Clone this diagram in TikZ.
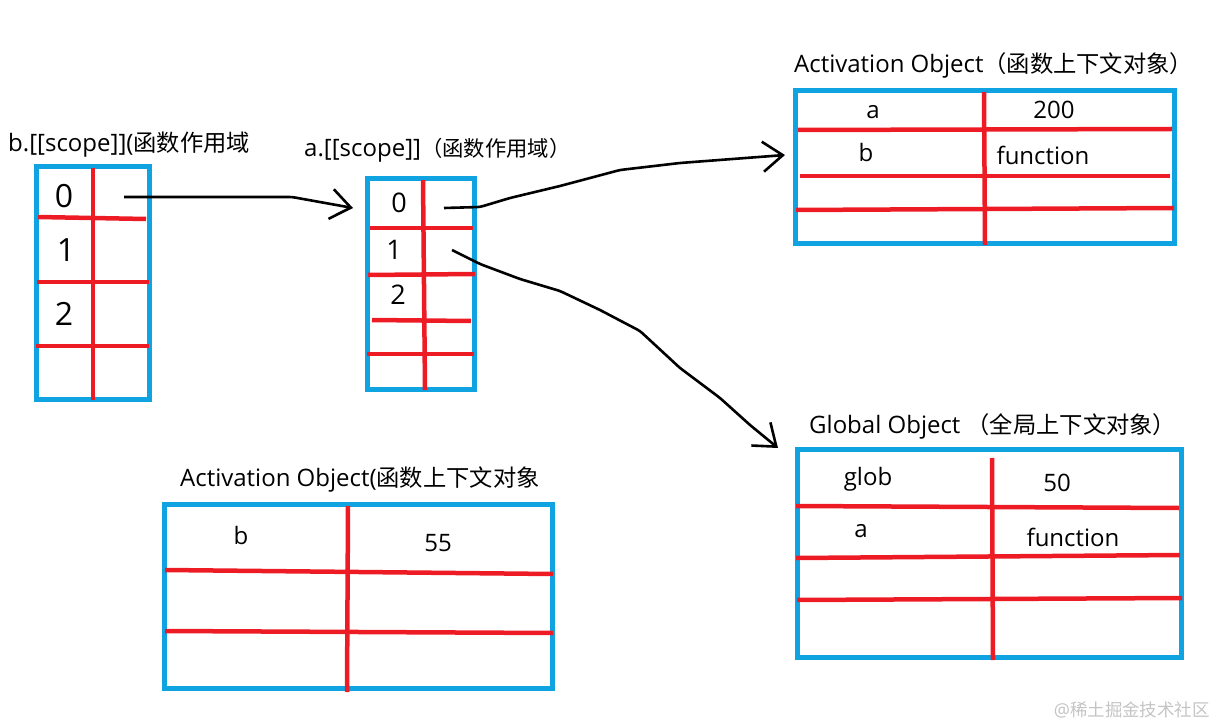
\documentclass[tikz,border=0pt]{standalone}
\usepackage{fontspec}
\setmainfont{Open Sans}
\newfontfamily\cjk[Scale=0.97]{Noto Sans CJK SC}
\usetikzlibrary{arrows.meta}
\definecolor{tblblue}{HTML}{0FA3E2}
\definecolor{tblred}{HTML}{ED1C24}
\definecolor{markgray}{HTML}{C4C4C4}
\newcommand{\zh}[1]{{\cjk #1}}

\begin{document}
\begin{tikzpicture}[x=1pt, y=-1pt, >={Straight Barb[length=20pt,width=30pt]},
    tbl/.style = {draw=tblblue, line width=5pt, rectangle, inner sep=0pt},
    redline/.style = {draw=tblred, line width=4.5pt},
    wire/.style = {draw=black, line width=2.6pt, line join=round, rounded corners=3pt},
    title/.style = {anchor=west, inner sep=0pt, font=\fontsize{24}{26}\selectfont},
    cell/.style = {inner sep=0pt, font=\fontsize{24}{26}\selectfont},
    digit/.style = {inner sep=0pt, font=\fontsize{32}{34}\selectfont},
    smalldigit/.style = {inner sep=0pt, font=\fontsize{27}{29}\selectfont}]
    \useasboundingbox (0,0) rectangle (1218,727);

    % boxes
    \node[tbl, minimum width=113, minimum height=233] (btable) at (93,283) {};
    \node[tbl, minimum width=107, minimum height=211] (atable) at (421,284) {};
    \node[tbl, minimum width=379, minimum height=153] (aotop) at (984.5,167) {};
    \node[tbl, minimum width=384, minimum height=208] (globtable) at (989,553.5) {};
    \node[tbl, minimum width=388, minimum height=184] (aobottom) at (358,596.5) {};

    % red grid lines
    \foreach \xa/\ya/\xb/\yb in {93/168/93/400, 38/217/146/219, 37/282/149/282, 36/346/149/346,
        423/180/425/390, 370/228/473/228, 368/275/475/274, 372/320/471/321, 367/354/474/354,
        984/92/985/245, 798/130/1172/129, 800/176/1170/176, 796/210/1174/208,
        992/458/993/660, 796/506/1179/508, 796/558/1180/555, 797/600/1182/598,
        348/506/347/692, 165/570/553/574, 165/631/553/633}
        \draw[redline] (\xa,\ya) -- (\xb,\yb);

    % titles
    \node[title] (btitle) at (8,145) {b.[[scope]](\zh{函数作用域}};
    \node[title] (atitle) at (304,150) {a.[[scope]]\zh{\fontsize{22}{24}\selectfont（函数作用域）}};
    \node[title] (aotoptitle) at (794,65) {Activation Object\zh{（函数上下文对象）}};
    \node[title] (globtitle) at (809,426) {Global Object \zh{（全局上下文对象）}};
    \node[title] (aobottomtitle) at (180,480) {Activation Object(\zh{函数上下文对象}};

    % cell texts
    \node[digit] (b0) at (64,196) {0};
    \node[digit] (b1) at (66,250) {1};
    \node[digit] (b2) at (64,314) {2};
    \node[smalldigit] (a0) at (399,203) {0};
    \node[smalldigit] (a1) at (394,250) {1};
    \node[smalldigit] (a2) at (398,295) {2};
    \node[cell] (topa) at (873,112) {a};
    \node[cell] (top200) at (1054,110) {200};
    \node[cell] (topb) at (866,153) {b};
    \node[cell] (topfn) at (1043,155) {function};
    \node[cell] (globname) at (868,479) {glob};
    \node[cell] (glob50) at (1057,483) {50};
    \node[cell] (globa) at (861,531) {a};
    \node[cell] (globfn) at (1073,537) {function};
    \node[cell] (botb) at (241,535) {b};
    \node[cell] (bot55) at (438,543) {55};
    \node[anchor=east, inner sep=0pt, text=markgray, font=\fontsize{18}{20}\selectfont] (mark) at (1210,710) {@\zh{稀土掘金技术社区}};

    % connector ends
    \coordinate (bfrom) at (124,197);
    \coordinate (bto) at (353,208);
    \coordinate (afrom) at (444,208);
    \coordinate (aoto) at (785,155);
    \coordinate (gfrom) at (452,250);
    \coordinate (gto) at (778,448);

    \draw[wire, ->] (bfrom) -- (292,197) -- (bto);
    \draw[wire, ->] (afrom) -- (480,207) -- (510,198) -- (560,186) -- (620,170) -- (680,163) -- (aoto);
    \draw[wire, ->] (gfrom) -- (480,264) -- (520,279) -- (560,291) -- (600,310) -- (640,331) -- (680,368) -- (720,398) -- (750,425) -- (gto);
\end{tikzpicture}
\end{document}
